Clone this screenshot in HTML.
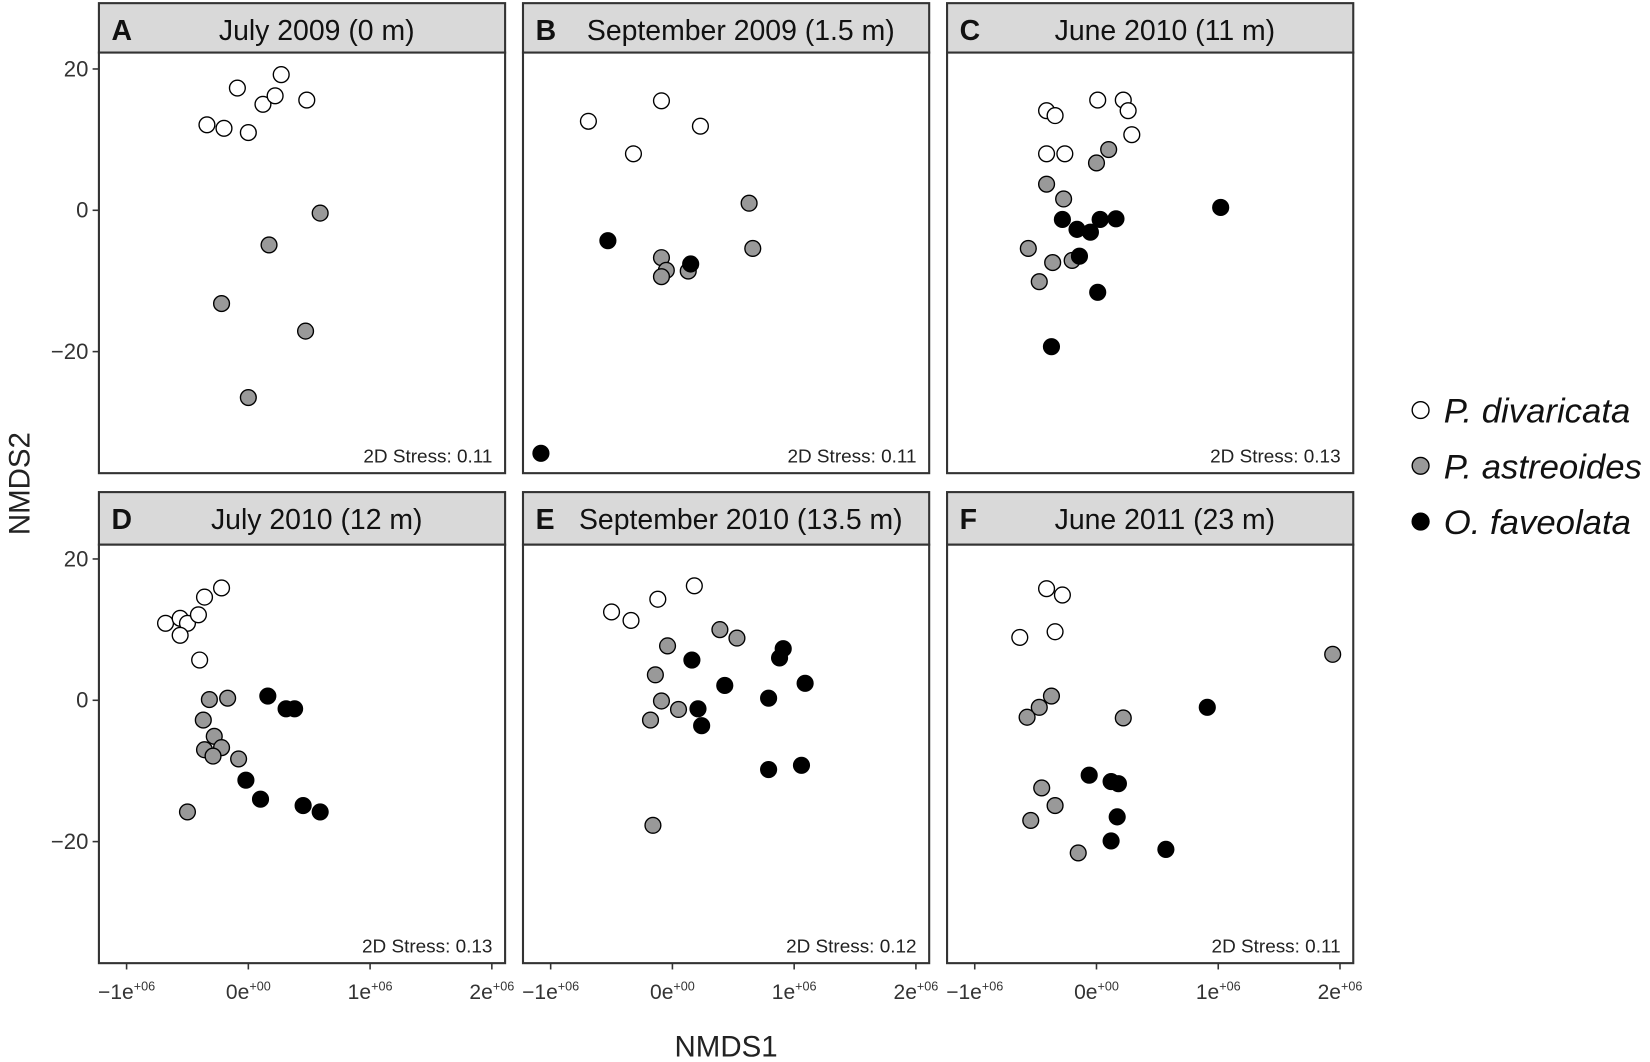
<!DOCTYPE html>
<html><head><meta charset="utf-8"><style>
html,body{margin:0;padding:0;background:#fff;width:1650px;height:1062px;overflow:hidden}
svg{display:block;font-family:"Liberation Sans",sans-serif}
</style></head><body>
<svg id="chart" width="1650" height="1062" viewBox="0 0 1568 1010" preserveAspectRatio="none" xmlns="http://www.w3.org/2000/svg"></svg>
<script>
const panelTitles = ["July 2009 (0 m)","September 2009 (1.5 m)","June 2010 (11 m)","July 2010 (12 m)","September 2010 (13.5 m)","June 2011 (23 m)"];
const panelLetters = ["A","B","C","D","E","F"];
const stressValues = ["0.11","0.11","0.13","0.13","0.12","0.11"];
const xTicks = [-1,0,1,2];
const xTickLabels = ["\u22121e","0e","1e","2e"];
const xTickExps = ["+06","+00","+06","+06"];
const yTicks = [20,0,-20];
const yTickLabels = ["20","0","\u221220"];
const species = ["P. divaricata","P. astreoides","O. faveolata"];
const speciesFill = ["#ffffff","#999999","#000000"];
// points: [x (1e6 units), y, species index]
const dataA = [[-0.34,12.1,0],[-0.2,11.6,0],[-0.09,17.3,0],[0,11.0,0],[0.12,15.0,0],[0.22,16.2,0],[0.27,19.2,0],[0.48,15.6,0],
 [0.59,-0.4,1],[0.17,-4.9,1],[-0.22,-13.2,1],[0.47,-17.1,1],[0,-26.5,1]];
const dataB = [[-0.69,12.6,0],[-0.32,8.0,0],[-0.09,15.5,0],[0.23,11.9,0],
 [0.63,1.0,1],[0.66,-5.4,1],[-0.09,-6.7,1],[-0.05,-8.5,1],[-0.09,-9.4,1],[0.13,-8.6,1],
 [-0.53,-4.3,2],[0.15,-7.6,2],[-1.08,-34.4,2]];
const dataC = [[-0.41,14.1,0],[-0.34,13.4,0],[0.01,15.6,0],[0.22,15.6,0],[0.26,14.1,0],[0.29,10.7,0],[-0.41,8.0,0],[-0.26,8.0,0],
 [0.1,8.6,1],[0,6.7,1],[-0.41,3.7,1],[-0.27,1.6,1],[-0.56,-5.4,1],[-0.36,-7.4,1],[-0.2,-7.1,1],[-0.47,-10.1,1],
 [-0.28,-1.3,2],[-0.16,-2.7,2],[-0.05,-3.1,2],[0.03,-1.3,2],[0.16,-1.2,2],[1.02,0.4,2],[-0.14,-6.5,2],[0.01,-11.6,2],[-0.37,-19.3,2]];
const dataD = [[-0.68,10.9,0],[-0.56,11.6,0],[-0.5,10.9,0],[-0.56,9.2,0],[-0.41,12.1,0],[-0.36,14.6,0],[-0.22,15.9,0],[-0.4,5.7,0],
 [-0.32,0.1,1],[-0.17,0.3,1],[-0.37,-2.8,1],[-0.28,-5.1,1],[-0.36,-7.0,1],[-0.22,-6.7,1],[-0.29,-7.9,1],[-0.08,-8.3,1],[-0.5,-15.8,1],
 [0.16,0.6,2],[0.31,-1.2,2],[0.38,-1.2,2],[-0.02,-11.3,2],[0.1,-14.0,2],[0.45,-14.9,2],[0.59,-15.8,2]];
const dataE = [[-0.5,12.5,0],[-0.34,11.3,0],[-0.12,14.3,0],[0.18,16.2,0],
 [-0.04,7.7,1],[0.39,10.0,1],[0.53,8.8,1],[-0.14,3.6,1],[-0.09,-0.1,1],[0.05,-1.3,1],[-0.18,-2.8,1],[-0.16,-17.7,1],
 [0.16,5.7,2],[0.91,7.3,2],[0.88,6.0,2],[0.43,2.1,2],[1.09,2.4,2],[0.79,0.3,2],[0.21,-1.2,2],[0.24,-3.6,2],[0.79,-9.8,2],[1.06,-9.2,2]];
const dataF = [[-0.63,8.9,0],[-0.41,15.8,0],[-0.28,14.9,0],[-0.34,9.7,0],
 [-0.37,0.6,1],[-0.47,-1.0,1],[-0.57,-2.4,1],[0.22,-2.5,1],[1.94,6.5,1],[-0.45,-12.4,1],[-0.34,-14.9,1],[-0.54,-17.0,1],[-0.15,-21.6,1],
 [0.91,-1.0,2],[-0.06,-10.6,2],[0.12,-11.5,2],[0.18,-11.8,2],[0.17,-16.5,2],[0.12,-19.9,2],[0.57,-21.1,2]];
const panelData = [dataA,dataB,dataC,dataD,dataE,dataF];

const NS="http://www.w3.org/2000/svg";
const svg=document.getElementById('chart');
function mk(tag,attrs,parent){const e=document.createElementNS(NS,tag);for(const k in attrs)e.setAttribute(k,attrs[k]);(parent||svg).appendChild(e);return e;}
const colL=[94,497,900], W=386;
const rowT=[[3,50,450],[468,518,916]];
const y0s=[200,666];
for(let p=0;p<6;p++){
  const c=p%3,r=Math.floor(p/3);
  const L=colL[c],[hT,pT,pB]=rowT[r];
  const xs=v=>L+142+v*115.7;
  const ys=v=>y0s[r]-v*6.72;
  const g=mk('g',{});
  
  
  const hdr=mk('rect',{x:L,y:hT,width:W,height:pT-hT,fill:'#d9d9d9',stroke:'#333','stroke-width':2},g);
  
  
  const lt=mk('text',{x:L+12,y:hT+35,'font-size':27,'font-weight':'bold',fill:'#111'},g);lt.textContent=panelLetters[p];
  
  
  const tt=mk('text',{x:L+W/2+14,y:hT+35,'font-size':27,'text-anchor':'middle',fill:'#111'},g);tt.textContent=panelTitles[p];
  
  
  const fr=mk('rect',{x:L,y:pT,width:W,height:pB-pT,fill:'#fff',stroke:'#333','stroke-width':2},g);
  
  
  if(c===0){
    yTicks.forEach((t,i)=>{
      mk('line',{x1:L-6,x2:L,y1:ys(t),y2:ys(t),stroke:'#333','stroke-width':1.5},g);
      const tl=mk('text',{x:L-10,y:ys(t)+7,'font-size':21,'text-anchor':'end',fill:'#333'},g);tl.textContent=yTickLabels[i];
      
      
    });
  }
  if(r===1){
    xTicks.forEach((t,i)=>{
      mk('line',{x1:xs(t),x2:xs(t),y1:pB,y2:pB+6,stroke:'#333','stroke-width':1.5},g);
      const tl=mk('text',{x:xs(t),y:pB+34,'font-size':20,'text-anchor':'middle',fill:'#333'},g);
      
      
      const a=mk('tspan',{},tl);a.textContent=xTickLabels[i];
      const sp=mk('tspan',{'font-size':12,dy:-8},tl);sp.textContent=xTickExps[i];
    });
  }
  panelData[p].forEach(d=>{
    const ci=mk('circle',{cx:xs(d[0]),cy:ys(d[1]),r:7.5,fill:speciesFill[d[2]],stroke:'#000','stroke-width':1.3},g);
    
    
  });
  const st=mk('text',{x:L+W-12,y:pB-10,'font-size':18,'text-anchor':'end',fill:'#222'},g);st.textContent='2D Stress: '+stressValues[p];
  
  
}
const yt=mk('text',{x:28,y:460,'font-size':28,'text-anchor':'middle',fill:'#222',transform:'rotate(-90 28 460)'});yt.textContent='NMDS2';


const xt=mk('text',{x:690,y:1005,'font-size':28,'text-anchor':'middle',fill:'#222'});xt.textContent='NMDS1';


species.forEach((s,i)=>{
  const y=390+i*53;
  const g=mk('g',{});
  
  
  mk('circle',{cx:1350,cy:y,r:8,fill:speciesFill[i],stroke:'#000','stroke-width':1.3},g);
  const t=mk('text',{x:1372,y:y+12,'font-size':33,'font-style':'italic',fill:'#111'},g);t.textContent=s;
});
</script>
</body></html>
